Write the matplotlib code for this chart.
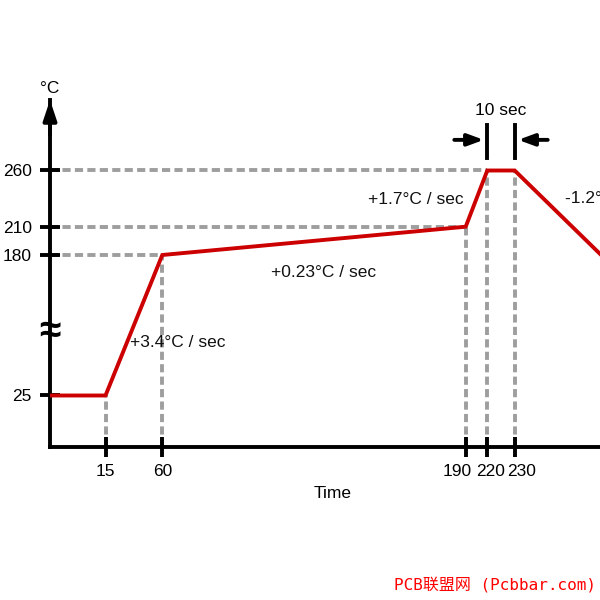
import numpy as np
import matplotlib
matplotlib.use('Agg')
import matplotlib.pyplot as plt
from matplotlib.transforms import blended_transform_factory, ScaledTranslation

plt.rcParams['font.family'] = ['Liberation Sans', 'DejaVu Sans']

# reflow profile (time in s, temperature in degC)
times = [0, 15, 60, 190, 220, 230, 297]
temps = [25, 25, 180, 210, 260, 260, 180]

x_ticks = [15, 60, 190, 220, 230]
y_ticks = [25, 180, 210, 260]

# corner points that get grey guide lines
guide_t = [15, 60, 190, 220, 230]
guide_temp = [25, 180, 210, 260, 260]
hguide_temp = [180, 210, 260]
hguide_t = [60, 190, 220]

rates = ['+3.4°C / sec', '+0.23°C / sec', '+1.7°C / sec', '-1.2°C / sec']
rate_t = [34.5, 129, 168.7, 269]
rate_temp = [83, 161, 234, 235.5]
rate_ha = ['left', 'center', 'center', 'left']

# schematic (non-linear) axes: piecewise linear scales
xk_t = np.array([0, 15, 60, 190, 220, 230, 300])
xk_p = np.array([50, 105.5, 162.3, 465.7, 487.3, 514.7, 605])
yk_t = np.array([0, 25, 180, 210, 260, 340])
yk_p = -np.array([446.7, 395.5, 255, 226.7, 170.5, 80])


def fx(t):
    return np.interp(t, xk_t, xk_p)


def fx_inv(p):
    return np.interp(p, xk_p, xk_t)


def fy(t):
    return np.interp(t, yk_t, yk_p)


def fy_inv(p):
    return np.interp(p, yk_p, yk_t)


RED = '#cc0000'
GREY = '#9e9e9e'
LW = 2.8
FS = 12.5

fig = plt.figure(figsize=(6, 6), dpi=100)
ax = fig.add_axes([50/600, (600-446.7)/600, 550/600, (446.7-100)/600])
ax.set_xscale('function', functions=(fx, fx_inv))
ax.set_yscale('function', functions=(fy, fy_inv))
ax.set_xlim(0, float(fx_inv(600)))
ax.set_ylim(0, float(fy_inv(-100)))

for s in ['top', 'right']:
    ax.spines[s].set_visible(False)
for s in ['left', 'bottom']:
    ax.spines[s].set_linewidth(LW)

ax.set_xticks(x_ticks)
ax.set_xticklabels([str(v) for v in x_ticks])
ax.set_yticks(y_ticks)
ax.set_yticklabels([str(v) for v in y_ticks])
ax.minorticks_off()
ax.tick_params(direction='inout', length=14.4, width=LW, labelsize=FS)
ax.tick_params(axis='x', pad=5)
ax.tick_params(axis='y', pad=6)

# the close labels are spread apart a bit
shifts = [0, 0, -9, 3, 7]
for lab, dx in zip(ax.get_xticklabels(), shifts):
    lab.set_transform(lab.get_transform() + ScaledTranslation(dx/100, 0, fig.dpi_scale_trans))

# guide lines
for t, v in zip(guide_t, guide_temp):
    ax.plot([t, t], [0, v], color=GREY, lw=LW, dashes=(2.1, 1.1), zorder=1)
for t, v in zip(hguide_t, hguide_temp):
    ax.plot([0, t], [v, v], color=GREY, lw=LW, dashes=(2.1, 1.1), zorder=1)

# profile
ax.plot(times, temps, color=RED, lw=LW, zorder=3, solid_joinstyle='miter')

for txt, t, v, ha in zip(rates, rate_t, rate_temp, rate_ha):
    ax.text(t, v, txt, fontsize=FS, ha=ha, va='center', color='#111111')

ax.set_xlabel('Time', fontsize=FS)
ax.xaxis.set_label_coords((333-50)/550, -0.112)

# y axis arrow, unit and break mark
ax.annotate('', xy=(0, 1.0), xytext=(0, 0.9), xycoords='axes fraction',
            arrowprops=dict(arrowstyle='-|>,head_length=1.2,head_width=0.4',
                            color='black', lw=LW, shrinkA=0, shrinkB=0,
                            mutation_scale=10),
            annotation_clip=False)
ax.text(0, 1.033, '°C', transform=ax.transAxes, ha='center', va='center',
        fontsize=FS, clip_on=False)
ax.text(0, 0.331, '≈', transform=ax.transAxes, ha='center', va='center',
        fontsize=28, fontweight='bold', clip_on=False, zorder=5)

# 10 sec dwell marker
tr = blended_transform_factory(ax.transData, ax.transAxes)
for t in [220, 230]:
    ax.plot([t, t], [0.833, 0.928], color='black', lw=LW, transform=tr,
            clip_on=False)
for t, dx in [(220, -33), (230, 33)]:
    ax.annotate('', xy=(t, 0.885), xycoords=tr, xytext=(dx, 0),
                textcoords='offset pixels',
                arrowprops=dict(arrowstyle='-|>,head_length=0.95,head_width=0.35',
                                color='black', lw=LW, shrinkA=0, shrinkB=2.5,
                                mutation_scale=10),
                annotation_clip=False)
ax.text(225, 0.971, '10 sec', transform=tr, ha='center', va='center',
        fontsize=FS, clip_on=False)

fig.text(596/600, 1-585/600, 'PCB联盟网 (Pcbbar.com)', color='#ff0000',
         fontsize=11.5, ha='right', va='center',
         family=['DejaVu Sans Mono', 'Noto Sans CJK SC'])

fig.savefig('out.png', dpi=100)
